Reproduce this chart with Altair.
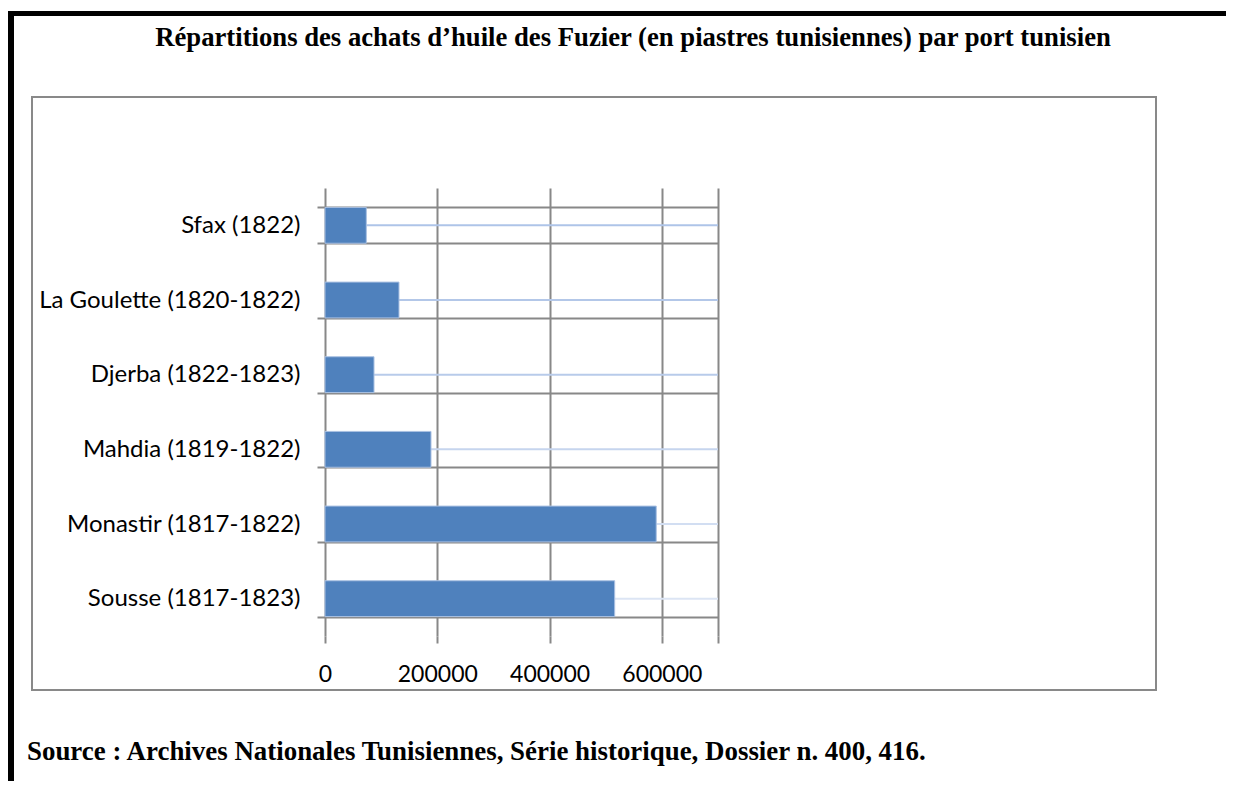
import altair as alt
import pandas as pd

# ---- data ----
ports = ["Sfax (1822)", "La Goulette (1820-1822)", "Djerba (1822-1823)",
         "Mahdia (1819-1822)", "Monastir (1817-1822)", "Sousse (1817-1823)"]
values = [73600, 131800, 87300, 188800, 590000, 516000]
x_ticks = [0, 200000, 400000, 600000, 700000]
x_max = 700000
title_text = "Répartitions des achats d’huile des Fuzier (en piastres tunisiennes) par port tunisien"
source_text = "Source : Archives Nationales Tunisiennes, Série historique, Dossier n. 400, 416."
line_colors = ["#AEC4E8", "#B3C7E8", "#B8CBEA", "#C6D5EE", "#D2DEF2", "#DCE5F4"]

df = pd.DataFrame({"port": ports, "value": values, "xmax": [x_max] * len(ports)})

# geometry (pixels)
W, H = 393, 448
PL, PT = 317, 180
TOTAL_W, TOTAL_H = 1218, 773
OX, OY = 8 + PL, 8 + PT  # absolute position of plot origin

GRID = "#888888"
FONT_LBL = "Lato"

yenc = alt.Y("port:N", sort=ports, title=None,
             scale=alt.Scale(paddingInner=0.52, paddingOuter=0.26),
             axis=alt.Axis(tickBand="extent", grid=True, gridColor=GRID, gridWidth=2,
                           ticks=True, tickColor=GRID, tickWidth=2, tickSize=8,
                           domain=False, labelFont=FONT_LBL, labelFontSize=24,
                           labelColor="#000000", labelPadding=17, labelLimit=400))

xscale = alt.Scale(domain=[0, x_max], nice=False, zero=True)
xaxis = alt.Axis(values=x_ticks, format="d", grid=True, gridColor=GRID, gridWidth=2,
                 ticks=True, tickColor=GRID, tickWidth=2, tickSize=7, domain=False,
                 labelFont=FONT_LBL, labelFontSize=23, labelColor="#000000",
                 labelPadding=20, labelFlush=False,
                 labelExpr="datum.value == 700000 ? '' : datum.label")

base = alt.Chart(df)

lines = base.mark_rule(strokeWidth=2).encode(
    y=yenc,
    x=alt.X("value:Q", scale=xscale, axis=xaxis, title=None),
    x2="xmax:Q",
    color=alt.Color("port:N", scale=alt.Scale(domain=ports, range=line_colors), legend=None),
)

bars = base.mark_bar(color="#4F81BD", stroke="#A9C0E2", strokeWidth=1).encode(
    y=alt.Y("port:N", sort=ports),
    x=alt.X("value:Q", scale=xscale),
)

one = pd.DataFrame({"t": [title_text], "s": [source_text]})

title = alt.Chart(one).mark_text(font="Liberation Serif", fontWeight="bold", fontSize=26.7,
                                 align="center", baseline="middle", color="#000000").encode(
    text="t:N", x=alt.value(633 - OX), y=alt.value(38 - OY))

source = alt.Chart(one).mark_text(font="Liberation Serif", fontWeight="bold", fontSize=26.9,
                                  align="left", baseline="middle", color="#000000").encode(
    text="s:N", x=alt.value(27 - OX), y=alt.value(752 - OY))

frame_box = alt.Chart(one).mark_rect(fill="white", fillOpacity=0, stroke="#898989",
                                     strokeWidth=2).encode(
    x=alt.value(32 - OX), x2=alt.value(1156 - OX),
    y=alt.value(97 - OY), y2=alt.value(690 - OY))

top_line = alt.Chart(one).mark_rule(color="#000000", strokeWidth=5).encode(
    x=alt.value(8 - OX), x2=alt.value(1240 - OX), y=alt.value(13.5 - OY))
left_line = alt.Chart(one).mark_rule(color="#000000", strokeWidth=6).encode(
    x=alt.value(11 - OX), y=alt.value(11 - OY), y2=alt.value(800 - OY))

chart = alt.layer(frame_box, lines, bars, title, source, top_line, left_line).properties(
    width=W, height=H,
    padding={"left": PL, "top": PT, "right": TOTAL_W - PL - W, "bottom": TOTAL_H - PT - H},
    autosize=alt.AutoSizeParams(type="none"),
    background="white",
).configure_view(stroke=None)

chart.save("out.html", embed_options={"renderer": "svg", "actions": False})
